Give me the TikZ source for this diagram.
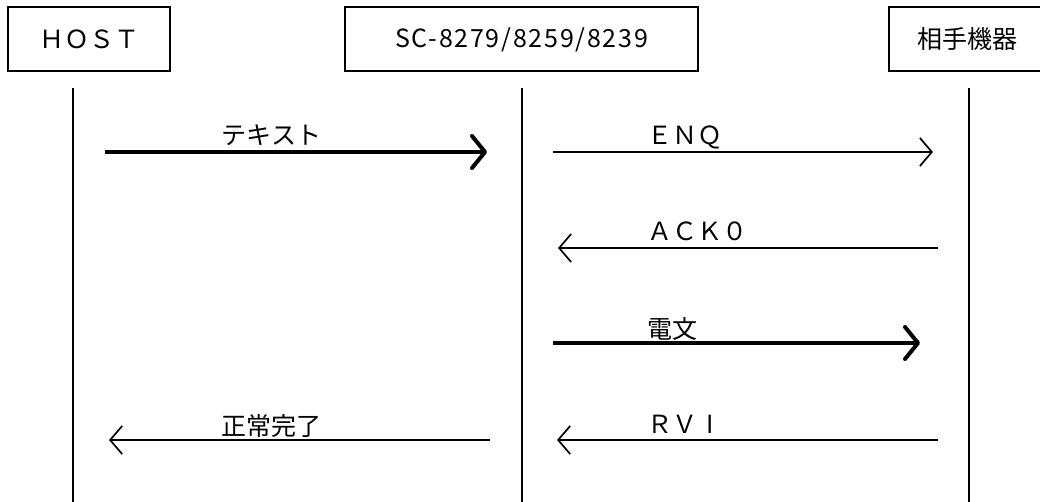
\documentclass[tikz,border=0pt]{standalone}
\usepackage{fontspec}
\setmainfont{Noto Sans CJK JP}
\usetikzlibrary{arrows.meta}
\begin{document}
\begin{tikzpicture}[x=1pt,y=-1pt,
  box/.style={draw, line width=2pt, minimum height=64pt, inner sep=0pt, font=\fontsize{25}{30}\selectfont},
  life/.style={line width=2.4pt},
  msg/.style={line width=1.7pt, -{Straight Barb[length=12pt,width=28pt]}},
  bigmsg/.style={line width=4pt, -{Straight Barb[length=13pt,width=32pt,round]}},
  lbl/.style={anchor=base west, inner sep=0pt, yshift=7pt, font=\fontsize{25}{30}\selectfont}]
\clip (0,0) rectangle (1040,502);
% boxes
\node[box, minimum width=162pt] (host) at (89,39.5) {ＨＯＳＴ};
\node[box, minimum width=353pt] (sc) at (521.5,39.5) {\addfontfeature{LetterSpace=7}SC-8279/8259/8239\hspace{16pt}};
\node[box, minimum width=157pt] (dev) at (967.5,39.5) {相手機器};
% lifelines
\coordinate (hT) at (73,88);  \coordinate (hB) at (73,506);
\coordinate (sT) at (522,88); \coordinate (sB) at (522,506);
\coordinate (dT) at (969,88); \coordinate (dB) at (969,506);
\draw[life] (hT) -- (hB);
\draw[life] (sT) -- (sB);
\draw[life] (dT) -- (dB);
% message end points
\coordinate (m1a) at (105,152); \coordinate (m1b) at (487,152);
\coordinate (m2a) at (553,152); \coordinate (m2b) at (933,152);
\coordinate (m3a) at (938,248); \coordinate (m3b) at (558,248);
\coordinate (m4a) at (553,343); \coordinate (m4b) at (920,343);
\coordinate (m5a) at (490,440); \coordinate (m5b) at (109,440);
\coordinate (m6a) at (938,440); \coordinate (m6b) at (557,440);
% messages
\draw[bigmsg] (m1a) -- node[lbl, pos=0.301] {テキスト} (m1b);
\draw[msg] (m2a) -- node[lbl, pos=0.247] {ＥＮＱ} (m2b);
\draw[msg] (m3a) -- node[lbl, pos=0.766] {ＡＣＫ０} (m3b);
\draw[bigmsg] (m4a) -- node[lbl, pos=0.253, yshift=-2pt] {電文} (m4b);
\draw[msg] (m5a) -- node[lbl, pos=0.706, yshift=-2pt] {正常完了} (m5b);
\draw[msg] (m6a) -- node[lbl, pos=0.764] {ＲＶ\makebox[1em]{I}} (m6b);
\end{tikzpicture}
\end{document}
